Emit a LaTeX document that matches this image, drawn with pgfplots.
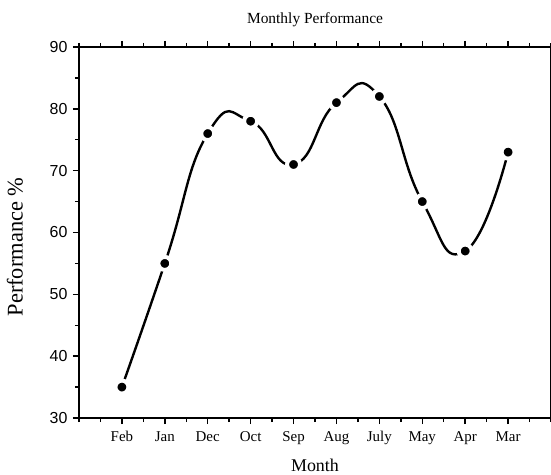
\documentclass[border=0pt]{standalone}
\usepackage{pgfplots}
\pgfplotsset{compat=1.18}
\usepackage{fontspec}
\setmainfont{Liberation Serif}
\newfontfamily\arialfont{Liberation Sans}
\begin{document}
\begin{tikzpicture}
\begin{axis}[
  name=ax,
  scale only axis,
  width=472bp, height=371bp,
  xmin=0, xmax=11, ymin=30, ymax=90,
  xtick={1,...,10},
  xticklabels={Feb,Jan,Dec,Oct,Sep,Aug,July,May,Apr,Mar},
  minor xtick={0,0.5,...,11},
  ytick={30,40,...,90},
  minor ytick={35,45,...,85},
  tick align=outside,
  xtick pos=both, ytick pos=left,
  major tick length=6bp, minor tick length=4bp,
  tick style={line width=1.5pt, black},
  axis line style={line width=1.5pt},
  xticklabel style={font=\fontsize{15}{16}\selectfont, yshift=-4bp},
  yticklabel style={font=\arialfont\fontsize{16}{17}\selectfont, xshift=-2bp},
  /pgf/number format/assume math mode=true,
  title={Monthly Performance},
  title style={font=\fontsize{15.5}{17}\selectfont, at={(rel axis cs:0.5,1.057)}, anchor=center},
  xlabel={Month},
  ylabel={Performance \%},
  xlabel style={font=\fontsize{18}{19}\selectfont, at={(rel axis cs:0.5,-0.1267)}, anchor=center},
  ylabel style={font=\fontsize{22.5}{23}\selectfont, at={(rel axis cs:-0.1356,0.461)}, anchor=center, rotate=0},
  clip=false,
]
\addplot[black, line width=2.4pt, smooth, tension=0.9, mark=*, mark size=6.5bp,
  mark options={fill=black, draw=white, line width=4bp}]
  coordinates {(1,35) (2,55) (3,76) (4,78) (5,71) (6,81) (7,82) (8,65) (9,57) (10,73)};
\end{axis}
\pgfresetboundingbox
\path ([shift={(-79bp,-57bp)}]ax.south west) rectangle ([shift={(0bp,47bp)}]ax.north east);
\end{tikzpicture}
\end{document}
